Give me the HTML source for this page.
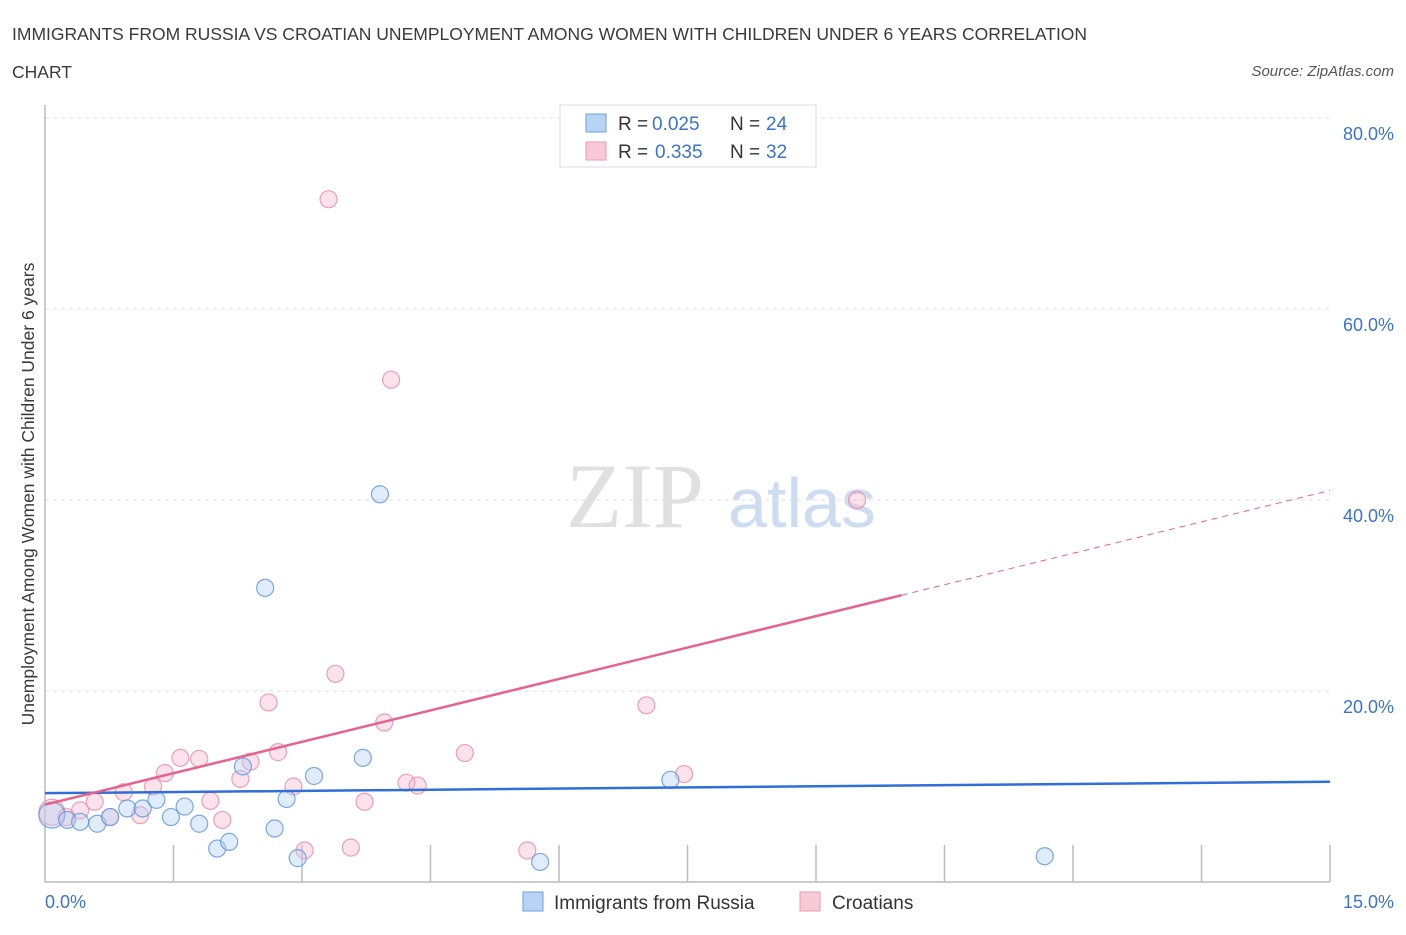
<!DOCTYPE html>
<html><head><meta charset="utf-8"><style>
body{margin:0;background:#fff;font-family:"Liberation Sans",sans-serif}
</style></head><body>
<svg width="1406" height="930" xmlns="http://www.w3.org/2000/svg" font-family="Liberation Sans, sans-serif">
<text x="12" y="40" font-size="17.5" fill="#3a3a3a">IMMIGRANTS FROM RUSSIA VS CROATIAN UNEMPLOYMENT AMONG WOMEN WITH CHILDREN UNDER 6 YEARS CORRELATION</text>
<text x="12" y="78" font-size="17.5" fill="#3a3a3a">CHART</text>
<text x="1394" y="76" font-size="15" fill="#555" font-style="italic" text-anchor="end">Source: ZipAtlas.com</text>
<text x="635" y="527" font-size="92" fill="#e0e0e0" font-family="Liberation Serif, serif" text-anchor="middle">ZIP</text>
<text x="802" y="527" font-size="70" fill="#cddcf0" text-anchor="middle">atlas</text>
<g id="grid"></g>
<line x1="45" y1="105" x2="45" y2="882" stroke="#bbb" stroke-width="1.5"/>
<line x1="45" y1="882" x2="1330" y2="882" stroke="#bbb" stroke-width="1.5"/>
<g id="ticks"></g>
<g id="marks"></g>
<text x="34" y="494" font-size="17.5" fill="#3a3a3a" text-anchor="middle" transform="rotate(-90 34 494)">Unemployment Among Women with Children Under 6 years</text>
<text x="45" y="908" font-size="18" fill="#3b73d1">0.0%</text>
<text x="1394" y="908" font-size="18" fill="#3b73d1" text-anchor="end">15.0%</text>
<g>
<rect x="560" y="105" width="256" height="62" fill="#fff" stroke="#ddd"/>
<rect x="586" y="114" width="20" height="18" fill="#b9d3f5" stroke="#6a9ee6"/>
<text x="618" y="130" font-size="19" fill="#333">R =</text>
<text x="652" y="130" font-size="19" fill="#3b73d1">0.025</text>
<text x="730" y="130" font-size="19" fill="#333">N =</text>
<text x="766" y="130" font-size="19" fill="#3b73d1">24</text>
<rect x="586" y="142" width="20" height="18" fill="#f9c9d7" stroke="#ec9ab3"/>
<text x="618" y="158" font-size="19" fill="#333">R =</text>
<text x="655" y="158" font-size="19" fill="#3b73d1">0.335</text>
<text x="730" y="158" font-size="19" fill="#333">N =</text>
<text x="766" y="158" font-size="19" fill="#3b73d1">32</text>
</g>
<g>
<rect x="523" y="892" width="20" height="19" fill="#b9d3f5" stroke="#6a9ee6"/>
<text x="554" y="909" font-size="19" fill="#333">Immigrants from Russia</text>
<rect x="800" y="892" width="20" height="19" fill="#f9c9d7" stroke="#ec9ab3"/>
<text x="832" y="909" font-size="19" fill="#333">Croatians</text>
</g>
</svg>
<script>
const yTicks=[20,40,60,80];
const yTickLabels=["20.0%","40.0%","60.0%","80.0%"];
const xTicks=[1.5,3,4.5,6,7.5,9,10.5,12,13.5,15];
const russiaX=[0.08,0.26,0.41,0.61,0.76,0.96,1.14,1.30,1.47,1.63,1.80,2.01,2.15,2.31,2.57,2.68,2.82,2.95,3.14,3.71,3.91,5.78,7.30,11.67];
const russiaY=[7.0,6.5,6.3,6.1,6.8,7.7,7.7,8.6,6.8,7.9,6.1,3.5,4.2,12.1,30.8,5.6,8.7,2.5,11.1,13.0,40.6,2.1,10.7,2.7];
const croX=[0.08,0.25,0.41,0.58,0.76,0.92,1.11,1.26,1.40,1.58,1.80,1.93,2.07,2.28,2.40,2.61,2.72,2.90,3.03,3.31,3.39,3.57,3.73,3.96,4.04,4.22,4.35,4.90,5.63,7.02,7.46,9.48];
const croY=[7.3,6.8,7.5,8.4,6.8,9.4,7.0,10.0,11.4,13.0,12.9,8.5,6.5,10.8,12.6,18.8,13.6,10.0,3.3,71.5,21.8,3.6,8.4,16.7,52.6,10.4,10.1,13.5,3.3,18.5,11.3,40.0];
const russiaTrend=[9.3,10.5];
const croTrend=[8.1,41.0];
const croSolidEnd=10.0;
const X=v=>45+v/15*1285, Y=v=>882-v*9.55;
const NS="http://www.w3.org/2000/svg";
function mk(t,a,p){const e=document.createElementNS(NS,t);for(const k in a)e.setAttribute(k,a[k]);p.appendChild(e);return e;}
const grid=document.getElementById('grid'),ticks=document.getElementById('ticks'),marks=document.getElementById('marks');
yTicks.forEach((v,i)=>{
 const l=mk('line',{x1:45,x2:1330,y1:Y(v),y2:Y(v),stroke:'#ddd','stroke-dasharray':'4,4'},grid);
 
 
 const t=mk('text',{x:1394,y:Y(v)+22,'font-size':18,fill:'#3b73d1','text-anchor':'end'},grid);
 t.textContent=yTickLabels[i];
 
 
});
xTicks.forEach(v=>{
 const l=mk('line',{x1:X(v),x2:X(v),y1:845,y2:882,stroke:'#bbb','stroke-width':1.5},ticks);
 
 
});
function pt(x,y,fill,stroke,r,name){
 const c=mk('circle',{cx:X(x),cy:Y(y),r:r,fill:fill,'fill-opacity':0.4,stroke:stroke,'stroke-opacity':0.8,'stroke-width':1.2},marks);
 
 
}
croX.forEach((x,i)=>pt(x,croY[i],'#f7b9cc','#e88aa8',i==0?13:8.5,'croatians-point'));
russiaX.forEach((x,i)=>pt(x,russiaY[i],'#b3cff5','#5b93e0',i==0?13:8.5,'russia-point'));
let l=mk('line',{x1:X(0),y1:Y(russiaTrend[0]),x2:X(15),y2:Y(russiaTrend[1]),stroke:'#2f6fd6','stroke-width':2.5},marks);


const cy=x=>croTrend[0]+(croTrend[1]-croTrend[0])*x/15;
l=mk('line',{x1:X(0),y1:Y(cy(0)),x2:X(croSolidEnd),y2:Y(cy(croSolidEnd)),stroke:'#e8628e','stroke-width':2.5},marks);


l=mk('line',{x1:X(croSolidEnd),y1:Y(cy(croSolidEnd)),x2:X(15),y2:Y(cy(15)),stroke:'#e8628e','stroke-width':1,'stroke-dasharray':'6,5'},marks);


</script>
</body></html>
